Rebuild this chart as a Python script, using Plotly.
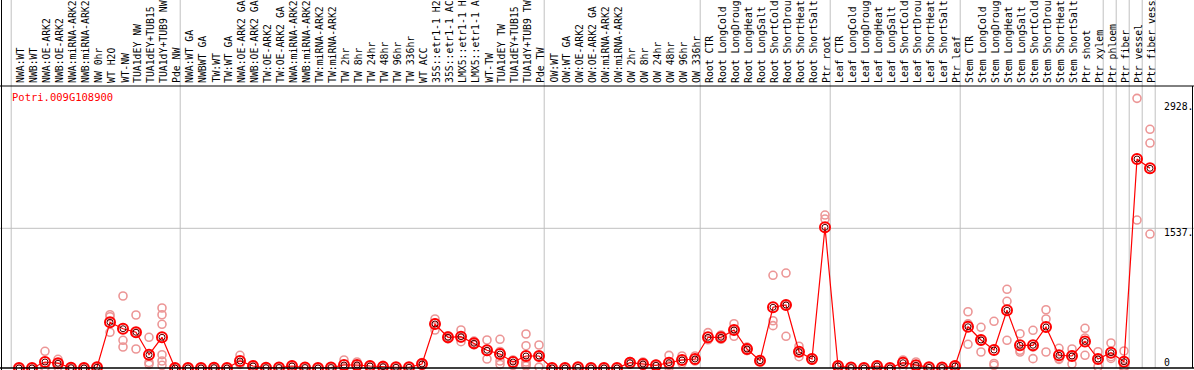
import plotly.graph_objects as go

gene_id = "Potri.009G108900"

labels = [
    "NWA:WT", "NWB:WT", "NWA:OE-ARK2", "NWB:OE-ARK2", "NWA:miRNA-ARK2", "NWB:miRNA-ARK2",
    "NW 0hr", "WT H2O", "WT-NW", "TUA1dEY NW", "TUA1dEY+TUB15", "TUA1dY+TUB9 NW", "Pde NW",
    "NWA:WT GA", "NWBWT GA", "TW:WT", "TW:WT GA", "NWA:OE-ARK2 GA", "NWB:OE-ARK2 GA",
    "TW:OE-ARK2", "TW:OE-ARK2 GA", "NWA:miRNA-ARK2", "NWB:miRNA-ARK2", "TW:miRNA-ARK2",
    "TW:miRNA-ARK2", "TW 2hr", "TW 8hr", "TW 24hr", "TW 48hr", "TW 96hr", "TW 336hr",
    "WT ACC", "35S::etr1-1 H2", "35S::etr1-1 AC", "LMX5::etr1-1 H", "LMX5::etr1-1 A",
    "WT-TW", "TUA1dEY TW", "TUA1dEY+TUB15", "TUA1dY+TUB9 TW", "Pde TW",
    "OW:WT", "OW:WT GA", "OW:OE-ARK2", "OW:OE-ARK2 GA", "OW:miRNA-ARK2", "OW:miRNA-ARK2",
    "OW 2hr", "OW 8hr", "OW 24hr", "OW 48hr", "OW 96hr", "OW 336hr",
    "Root CTR", "Root LongCold", "Root LongDroug", "Root LongHeat", "Root LongSalt",
    "Root ShortCold", "Root ShortDrou", "Root ShortHeat", "Root ShortSalt", "Ptr root",
    "Leaf CTR", "Leaf LongCold", "Leaf LongDroug", "Leaf LongHeat", "Leaf LongSalt",
    "Leaf ShortCold", "Leaf ShortDroug", "Leaf ShortHeat", "Leaf ShortSalt", "Ptr leaf",
    "Stem CTR", "Stem LongCold", "Stem LongDroug", "Stem LongHeat", "Stem LongSalt",
    "Stem ShortCold", "Stem ShortDrou", "Stem ShortHeat", "Stem ShortSalt", "Ptr shoot",
    "Ptr xylem", "Ptr phloem", "Ptr fiber", "Ptr vessel", "Ptr fiber vess",
]
labels = [l[:14] for l in labels]

mean_values = [
    0, 0, 66, 52, 3, 0, 8, 503, 432, 393, 146, 338, 0,
    0, 0, 3, 0, 77, 22, 3, 5, 22, 5, 0, 5, 33, 33, 22, 14, 8, 8,
    44, 484, 338, 344, 272, 195, 154, 66, 132, 132,
    0, 0, 7, 0, 0, 0, 58, 44, 30, 58, 88, 99,
    338, 338, 418, 209, 80, 668, 693, 179, 99, 1548,
    22, 5, 0, 22, 0, 58, 30, 7, 5, 22,
    454, 308, 198, 635, 250, 250, 451, 140, 132, 292,
    99, 168, 69, 2299, 2197,
]

replicates = [
    [0, 0, 0], [0, 0, 0], [184, 10, 4], [96, 50, 10], [5, 3, 0], [0, 0, 0], [16, 5, 3],
    [586, 564, 393], [792, 305, 231], [583, 385, 209], [338, 61, 40],
    [660, 586, 481, 146, 77, 30], [0, 0, 0],
    [0, 0, 0], [0, 0, 0], [5, 3, 0], [0, 0, 0], [140, 50, 40], [30, 22, 14], [5, 3, 0],
    [8, 5, 3], [30, 22, 14], [8, 5, 2], [0, 0, 0], [8, 5, 2], [88, 10, 0], [66, 25, 10],
    [30, 22, 14], [30, 10, 2], [12, 8, 4], [12, 8, 4],
    [60, 44, 28], [539, 495, 418], [355, 338, 320], [418, 328, 289], [296, 266, 254],
    [308, 182, 99], [316, 182, 77, 40], [88, 81, 30], [374, 245, 66, 44, 22, 40],
    [253, 132, 10],
    [0, 0, 0], [0, 0, 0], [10, 7, 4], [0, 0, 0], [0, 0, 0], [0, 0, 0],
    [70, 58, 46], [66, 40, 25], [40, 30, 20], [139, 30, 5], [132, 80, 50], [132, 88, 77],
    [389, 316, 310], [363, 316, 335], [487, 420, 349], [230, 209, 190], [88, 80, 72],
    [1020, 520, 466], [1045, 690, 349], [240, 174, 124], [110, 99, 88], [1683, 1639],
    [30, 22, 14], [8, 5, 2], [0, 0, 0], [30, 22, 14], [0, 0, 0], [88, 78, 8], [66, 20, 4],
    [10, 7, 4], [8, 5, 2], [30, 22, 14],
    [619, 486, 261], [448, 301, 176], [514, 50, 30], [866, 734, 305], [377, 195, 176],
    [415, 230, 103], [641, 539, 176], [217, 105, 95], [209, 143, 44], [437, 330, 140],
    [179, 105, 14], [275, 124, 105], [187, 20, 0], [2967, 1628], [2626, 2475, 1474],
]

axis_label_values = [2928, 1537, 0]
axis_label_text = ["2928.", "1537.", "0"]

# separators drawn after these label indices (-1 = before the first)
separator_after = [-1, 12, 40, 52, 62, 72, 83, 84, 85, 86, 87]

x_idx = list(range(len(labels)))
rep_x = [i for i, reps in enumerate(replicates) for _ in reps]
rep_y = [v for reps in replicates for v in reps]

W, H = 1194, 370
PX_PER_CAT = 13.0
FIRST_PX = 19.0
x0 = -FIRST_PX / PX_PER_CAT
x1 = x0 + W / PX_PER_CAT
plot_top_px, plot_bot_px = 86, 368
y_top_val = (plot_bot_px - plot_top_px) / ((plot_bot_px - 228.3) / 1537)

mono = "DejaVu Sans Mono"

fig = go.Figure()
fig.add_trace(go.Scatter(
    x=rep_x, y=rep_y, mode="markers", cliponaxis=False,
    marker=dict(symbol="circle-open", size=8, color="rgb(236,150,150)", line=dict(width=1.6)),
    hoverinfo="skip", showlegend=False,
))
fig.add_trace(go.Scatter(
    x=x_idx, y=mean_values, mode="lines+markers", cliponaxis=False,
    line=dict(color="#ff0000", width=1.2),
    marker=dict(symbol="circle-open", size=10, color="#ff0000", line=dict(width=2)),
    showlegend=False,
))
fig.add_trace(go.Scatter(
    x=x_idx, y=mean_values, mode="markers", cliponaxis=False,
    marker=dict(symbol="circle-open", size=6, color="#500000", line=dict(width=1)),
    hoverinfo="skip", showlegend=False,
))

shapes = []
for s in separator_after:
    shapes.append(dict(type="line", xref="x", yref="paper", x0=s + 0.4, x1=s + 0.4,
                       y0=(H - plot_bot_px) / H, y1=1, line=dict(color="#c0c0c0", width=1),
                       layer="below"))
shapes.append(dict(type="line", xref="paper", yref="y", x0=0, x1=1, y0=1537, y1=1537,
                   line=dict(color="#c0c0c0", width=1), layer="below"))
# borders
shapes.append(dict(type="line", xref="paper", yref="paper", x0=0, x1=1,
                   y0=(H - plot_top_px) / H, y1=(H - plot_top_px) / H,
                   line=dict(color="black", width=1)))
shapes.append(dict(type="line", xref="paper", yref="paper", x0=0, x1=1,
                   y0=(H - plot_bot_px) / H, y1=(H - plot_bot_px) / H,
                   line=dict(color="black", width=1.5)))
shapes.append(dict(type="line", xref="paper", yref="paper", x0=1.5 / W, x1=1.5 / W, y0=0, y1=1,
                   line=dict(color="black", width=1)))
shapes.append(dict(type="line", xref="paper", yref="paper", x0=1 - 1.5 / W, x1=1 - 1.5 / W,
                   y0=(H - plot_bot_px) / H, y1=(H - plot_top_px) / H,
                   line=dict(color="black", width=1)))

annotations = []
for i, lab in enumerate(labels):
    annotations.append(dict(x=i, y=(H - 85) / H, xref="x", yref="paper", text=lab,
                            textangle=-90, showarrow=False, xanchor="center", yanchor="bottom",
                            xshift=1.5, font=dict(family=mono, size=9.8, color="black")))
annotations.append(dict(x=10 / W, y=(H - 97) / H, xref="paper", yref="paper", text=gene_id,
                        showarrow=False, xanchor="left", yanchor="middle",
                        font=dict(family=mono, size=10.5, color="#ff0000")))
label_shift = [-5, -4, 6]
for v, t, sh in zip(axis_label_values, axis_label_text, label_shift):
    annotations.append(dict(x=1162 / W, y=v, xref="paper", yref="y", text=t,
                            showarrow=False, xanchor="left", yanchor="middle", yshift=sh,
                            font=dict(family=mono, size=9.8, color="black")))

fig.update_layout(
    width=W, height=H, margin=dict(l=0, r=0, t=0, b=0),
    paper_bgcolor="white", plot_bgcolor="white",
    xaxis=dict(range=[x0, x1], visible=False, domain=[0, 1]),
    yaxis=dict(range=[0, y_top_val], visible=False,
               domain=[(H - plot_bot_px) / H, (H - plot_top_px) / H]),
    shapes=shapes, annotations=annotations,
)

fig.write_html("out.html", config={"displayModeBar": False},
               post_script="document.body.style.margin='0';document.body.style.padding='0';")
